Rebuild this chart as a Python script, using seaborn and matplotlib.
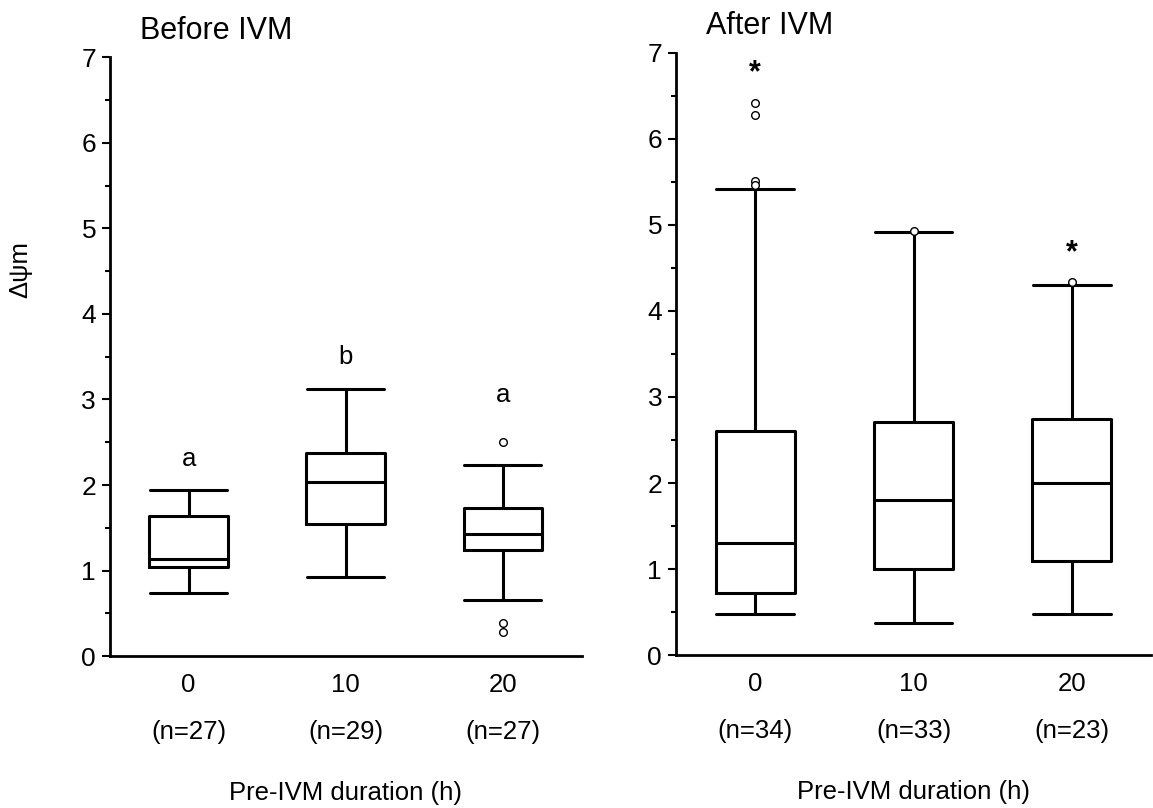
import pandas as pd
import matplotlib
matplotlib.use('Agg')
import matplotlib.pyplot as plt
import seaborn as sns
from matplotlib.ticker import MultipleLocator

sns.set_style('ticks')
plt.rcParams['font.family'] = ['Liberation Sans', 'DejaVu Sans']
plt.rcParams.update({'text.color': 'black', 'axes.labelcolor': 'black',
                     'xtick.color': 'black', 'ytick.color': 'black',
                     'axes.edgecolor': 'black'})

# categorias (duração pré-IVM, h)
groups = ['0', '10', '20']

# Antes da IVM: [bigode inf, Q1, mediana, Q3, bigode sup]
before_0 = [0.74, 1.04, 1.14, 1.64, 1.94]
before_10 = [0.93, 1.54, 2.03, 2.38, 3.12]
before_20 = [0.65, 1.24, 1.43, 1.73, 2.23]
before_out_20 = [2.50, 0.39, 0.28]
before_n = [27, 29, 27]
before_letters = ['a', 'b', 'a']
before_letter_y = [2.31, 3.50, 3.05]

# Depois da IVM
after_0 = [0.48, 0.72, 1.30, 2.61, 5.41]
after_10 = [0.38, 1.00, 1.80, 2.71, 4.91]
after_20 = [0.48, 1.10, 2.00, 2.74, 4.30]
after_out_0 = [6.41, 6.28, 5.51, 5.46]
after_out_10 = [4.93]
after_out_20 = [4.33]
after_n = [34, 33, 23]
after_stars = ['*', '', '*']
after_star_y = [6.76, 0, 4.67]


def long_df(cols):
    rows = []
    for g, vals in zip(groups, cols):
        for v in vals:
            rows.append({'grupo': g, 'valor': v})
    return pd.DataFrame(rows)


fig = plt.figure(figsize=(11.53, 8.08), dpi=100)
ax1 = fig.add_axes([0.0954, 0.188, 0.409, 0.741])
ax2 = fig.add_axes([0.5863, 0.189, 0.412, 0.746])

box_kws = dict(x='grupo', y='valor', order=groups, whis=(0, 100), width=0.5,
               fill=False, color='black', linecolor='black', linewidth=2.2,
               showfliers=False, capwidths=0.49)
out_kws = dict(x='grupo', y='valor', order=groups, jitter=False, color='white',
               edgecolor='black', linewidth=1, size=5.5, zorder=5)

panels = [
    (ax1, [before_0, before_10, before_20], [[], [], before_out_20], before_n, 'Before IVM'),
    (ax2, [after_0, after_10, after_20], [after_out_0, after_out_10, after_out_20], after_n, 'After IVM'),
]

for ax, boxes, outs, ns, title in panels:
    sns.boxplot(data=long_df(boxes), ax=ax, **box_kws)
    sns.stripplot(data=long_df(outs), ax=ax, **out_kws)
    ax.set_xlim(-0.5, 2.5)
    ax.set_ylim(0, 7)
    ax.yaxis.set_major_locator(MultipleLocator(1))
    ax.yaxis.set_minor_locator(MultipleLocator(0.5))
    ax.set_xticks(range(3))
    ax.set_xticklabels([f'{g}\n(n={n})' for g, n in zip(groups, ns)], linespacing=2.2)
    ax.tick_params(axis='x', length=0, pad=12, labelsize=18.5)
    ax.tick_params(axis='y', which='major', length=6, width=1.5, labelsize=19, pad=4)
    ax.tick_params(axis='y', which='minor', length=3.5, width=1.5)
    for s in ['top', 'right']:
        ax.spines[s].set_visible(False)
    for s in ['left', 'bottom']:
        ax.spines[s].set_linewidth(2)
    ax.set_xlabel('Pre-IVM duration (h)', fontsize=18.5, labelpad=27)
    ax.set_ylabel('')
    ax.text(0.063, 1.0 + 18 / 600, title, transform=ax.transAxes, fontsize=22,
            ha='left', va='baseline')

for i, (lt, y) in enumerate(zip(before_letters, before_letter_y)):
    ax1.text(i, y, lt, ha='center', va='center', fontsize=18.5)
for i, (st, y) in enumerate(zip(after_stars, after_star_y)):
    if st:
        ax2.text(i, y, st, ha='center', va='center', fontsize=22, fontweight='bold')

ax1.set_ylabel('Δψm', fontsize=18.5)
ax1.yaxis.set_label_coords(-0.165, 0.645)

plt.savefig('out.png', dpi=100)
